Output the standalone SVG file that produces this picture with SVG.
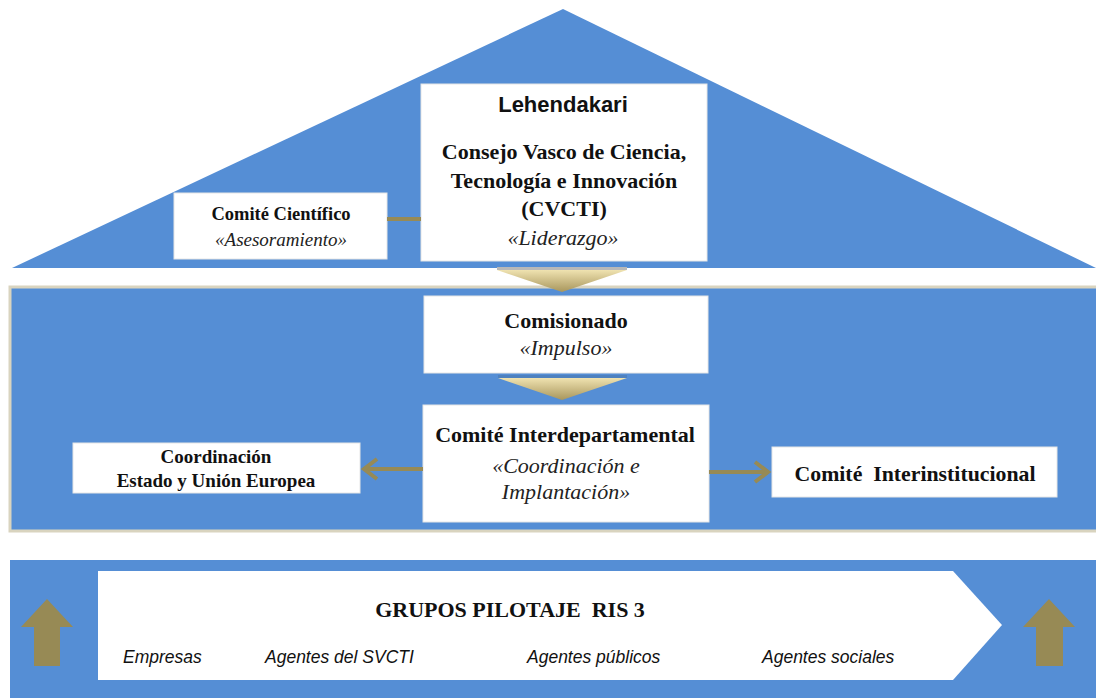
<svg xmlns="http://www.w3.org/2000/svg" width="1096" height="698" viewBox="0 0 1096 698">
<style>
.blue{fill:#558ed5}
.box{fill:#ffffff;stroke:#e6e6e6;stroke-width:1}
.sb{font-family:"Liberation Serif","Times New Roman",serif;font-weight:bold;fill:#111;text-anchor:middle}
.si{font-family:"Liberation Serif","Times New Roman",serif;font-style:italic;fill:#222;text-anchor:middle}
.ab{font-family:"Liberation Sans",Arial,sans-serif;font-weight:bold;fill:#111;text-anchor:middle}
.ai{font-family:"Liberation Sans",Arial,sans-serif;font-style:italic;fill:#111;font-size:17.5px}
.gold{fill:#978a55}
.gl{stroke:#978a55;stroke-width:4;fill:none}
</style>
<defs>
<linearGradient id="chev" x1="0" y1="0" x2="0" y2="1">
<stop offset="0" stop-color="#efe2b0"/>
<stop offset="1" stop-color="#a8965c"/>
</linearGradient>
</defs>
<rect width="1096" height="698" fill="#ffffff"/>
<g id="backgrounds">
<polygon class="blue" points="563,9 1096,268 12,268"/>
<rect x="10" y="287" width="1090" height="244" class="blue" stroke="#d9d4bf" stroke-width="3"/>
<rect x="10" y="560" width="1090" height="140" class="blue"/>
</g>
<g id="node-lehendakari">
<rect class="box" x="421" y="84" width="286" height="177"/>
<text class="ab" x="563" y="112" font-size="22">Lehendakari</text>
<text class="sb" x="564" y="159" font-size="22">Consejo Vasco de Ciencia,</text>
<text class="sb" x="564" y="188" font-size="22">Tecnología e Innovación</text>
<text class="sb" x="564" y="216" font-size="22">(CVCTI)</text>
<text class="si" x="563" y="245" font-size="22">«Liderazgo»</text>
</g>
<g id="node-comite-cientifico">
<rect class="box" x="174" y="193" width="213" height="66"/>
<text class="sb" x="281" y="220" font-size="18.5">Comité Científico</text>
<text class="si" x="281" y="246" font-size="19">«Asesoramiento»</text>
</g>
<g id="node-comisionado">
<rect class="box" x="424" y="296" width="284" height="77"/>
<text class="sb" x="566" y="328" font-size="22">Comisionado</text>
<text class="si" x="566" y="355" font-size="22">«Impulso»</text>
</g>
<g id="node-interdepartamental">
<rect class="box" x="423" y="405" width="286" height="117"/>
<text class="sb" x="565" y="442" font-size="22">Comité Interdepartamental</text>
<text class="si" x="566" y="473" font-size="22">«Coordinación e</text>
<text class="si" x="566" y="499" font-size="22">Implantación»</text>
</g>
<g id="node-coordinacion">
<rect class="box" x="73" y="443" width="287" height="50"/>
<text class="sb" x="216" y="463" font-size="19">Coordinación</text>
<text class="sb" x="216" y="487" font-size="19">Estado y Unión Europea</text>
</g>
<g id="node-interinstitucional">
<rect class="box" x="772" y="447" width="285" height="50"/>
<text class="sb" x="915" y="481" font-size="21.8" xml:space="preserve">Comité  Interinstitucional</text>
</g>
<g id="node-grupos">
<polygon fill="#ffffff" points="98,571 953,571 1002,625 953,680 98,680"/>
<text class="sb" x="510" y="617" font-size="22" xml:space="preserve">GRUPOS PILOTAJE  RIS 3</text>
<text class="ai" x="123" y="663">Empresas</text>
<text class="ai" x="265" y="663">Agentes del SVCTI</text>
<text class="ai" x="527" y="663">Agentes públicos</text>
<text class="ai" x="762" y="663">Agentes sociales</text>
</g>
<g id="connectors">
<line class="gl" x1="387" y1="219" x2="421" y2="219"/>
<rect x="497" y="267" width="130" height="3" fill="#b8b8b8"/>
<polygon fill="url(#chev)" points="497,270 627,270 562,292"/>
<rect x="498" y="375" width="129" height="3" fill="#4a78b0" opacity="0.6"/>
<polygon fill="url(#chev)" points="498,378 627,378 562,400"/>
<line class="gl" x1="423" y1="469" x2="365" y2="469"/>
<polyline class="gl" points="377,459 364,469 377,479"/>
<line class="gl" x1="709" y1="472" x2="767" y2="472"/>
<polyline class="gl" points="755,462 768,472 755,482"/>
<polygon class="gold" points="47,599 73,627 60,627 60,666 34,666 34,627 21,627"/>
<polygon class="gold" points="1049,599 1075,627 1063,627 1063,666 1036,666 1036,627 1023,627"/>
</g>
</svg>
